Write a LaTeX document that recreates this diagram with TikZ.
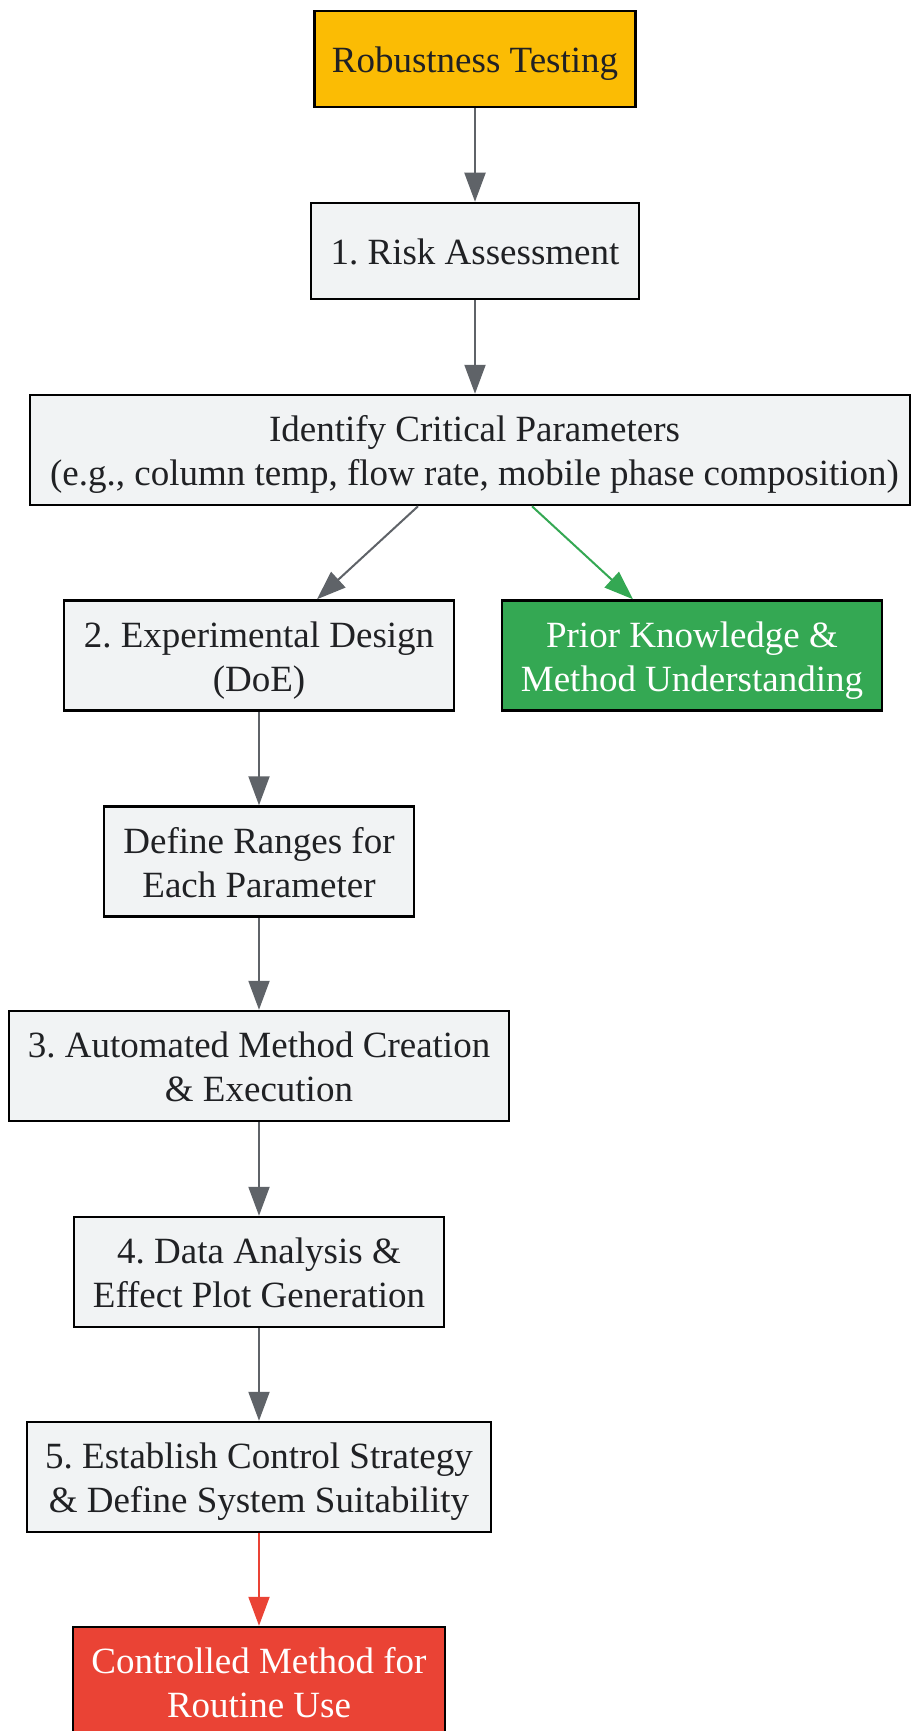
\documentclass[tikz,border=0pt]{standalone}
\usepackage{fontspec}
\setmainfont{Liberation Serif}
\usetikzlibrary{arrows.meta}
\frenchspacing
\definecolor{ygold}{HTML}{FBBC04}
\definecolor{boxgrey}{HTML}{F1F3F4}
\definecolor{ggreen}{HTML}{34A853}
\definecolor{rred}{HTML}{EA4335}
\definecolor{arrgrey}{HTML}{5F6368}
\definecolor{txt}{HTML}{202124}
\newcommand{\topstrut}{\rule{0pt}{37.4pt}}
\newcommand{\botstrut}{\rule[-10pt]{0pt}{10pt}}
\tikzset{
  stepbox/.style={draw=black, line width=2.5pt, fill=boxgrey, text=txt, align=center, inner sep=0pt,
    font=\fontsize{37}{44}\selectfont, execute at begin node=\topstrut, execute at end node=\botstrut},
  startbox/.style={stepbox, fill=ygold},
  greenbox/.style={stepbox, fill=ggreen, text=white},
  redbox/.style={stepbox, fill=rred, text=white},
  arr/.style={draw=arrgrey, line width=2pt, -{Triangle[length=29pt,width=21pt]}},
  garr/.style={arr, draw=ggreen, fill=ggreen},
  rarr/.style={arr, draw=rred, fill=rred},
}
\begin{document}
\begin{tikzpicture}[x=1pt,y=-1pt]
\useasboundingbox (0,0) rectangle (911,1731);
\clip (0,0) rectangle (911,1731);
\fill[white] (0,0) rectangle (911,1731);
\node[startbox, minimum width=321pt, minimum height=96pt] (rob) at (475,59) {Robustness Testing};
\node[stepbox, minimum width=328pt, minimum height=96pt] (risk) at (475,251) {1. Risk Assessment};
\node[stepbox, minimum width=880pt, minimum height=110pt] (ident) at (470,450) {\topstrut\hspace*{9pt}Identify Critical Parameters\\\hspace*{9pt}(e.g., column temp, flow rate, mobile phase composition)\botstrut};
\node[stepbox, minimum width=390pt, minimum height=110pt] (exp) at (259,655.5) {\topstrut 2. Experimental Design\\(DoE)\botstrut};
\node[greenbox, minimum width=380pt, minimum height=110pt] (prior) at (692,655.5) {\topstrut Prior Knowledge \&\\Method Understanding\botstrut};
\node[stepbox, minimum width=310pt, minimum height=110pt] (def) at (259,861.5) {\topstrut Define Ranges for\\Each Parameter\botstrut};
\node[stepbox, minimum width=500pt, minimum height=110pt] (auto) at (259,1066) {\topstrut 3. Automated Method Creation\\\& Execution\botstrut};
\node[stepbox, minimum width=370pt, minimum height=110pt] (data) at (259,1272) {\topstrut 4. Data Analysis \&\\Effect Plot Generation\botstrut};
\node[stepbox, minimum width=464pt, minimum height=110pt] (est) at (259,1477) {\topstrut 5. Establish Control Strategy\\\& Define System Suitability\botstrut};
\node[redbox, minimum width=372pt, minimum height=110pt] (ctrl) at (259,1682) {\topstrut Controlled Method for\\Routine Use\botstrut};
\draw[arr] (rob) -- (risk);
\draw[arr] (risk.south) -- (risk.south |- ident.north);
\draw[arr] ([xshift=-52pt]ident.south) -- ([xshift=58pt]exp.north);
\draw[garr] ([xshift=62pt]ident.south) -- ([xshift=-59pt]prior.north);
\draw[arr] (exp) -- (def);
\draw[arr] (def) -- (auto);
\draw[arr] (auto) -- (data);
\draw[arr] (data) -- (est);
\draw[rarr] (est) -- (ctrl);
\end{tikzpicture}
\end{document}
